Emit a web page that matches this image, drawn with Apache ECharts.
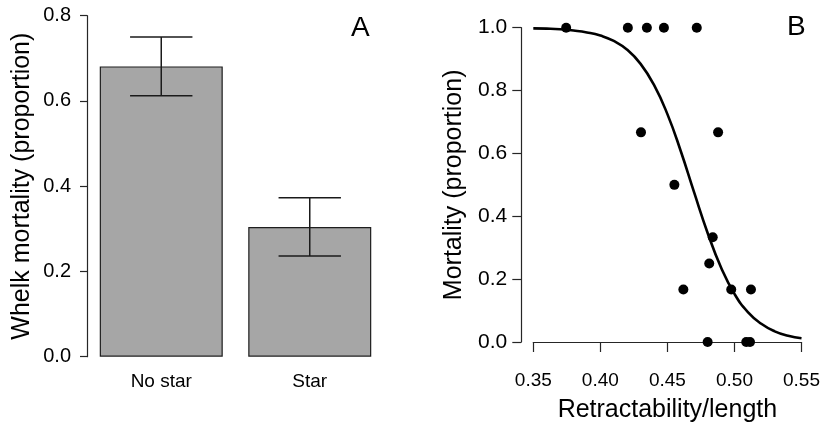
<!DOCTYPE html>
<html>
<head>
<meta charset="utf-8">
<script src="https://cdn.jsdelivr.net/npm/echarts@6/dist/echarts.min.js"></script>
<style>
  html, body { margin: 0; padding: 0; background: #ffffff; }
  #chart { width: 823px; height: 428px; }
</style>
</head>
<body>
<div id="chart"></div>
<script>
// ---- Panel A data ----
const barCategories = ['No star', 'Star'];
const barMeans = [0.681, 0.304];
const barErrLow = [0.612, 0.236];
const barErrHigh = [0.750, 0.373];

// ---- Panel B data ----
const pointX = [0.3745, 0.4205, 0.4347, 0.4474, 0.4719, 0.4303, 0.4878, 0.4552, 0.4838, 0.4812, 0.4619, 0.4976, 0.5123, 0.4800, 0.5088, 0.5116];
const pointY = [1.0, 1.0, 1.0, 1.0, 1.0, 0.667, 0.667, 0.5, 0.333, 0.25, 0.167, 0.167, 0.167, 0.0, 0.0, 0.0];

const curveX = [0.35, 0.36, 0.37, 0.38, 0.39, 0.40, 0.41, 0.42, 0.43, 0.44, 0.45, 0.46, 0.47, 0.48, 0.49, 0.50, 0.51, 0.52, 0.53, 0.54, 0.55];
const curveY = [0.998, 0.997, 0.995, 0.991, 0.985, 0.975, 0.958, 0.930, 0.885, 0.818, 0.725, 0.607, 0.475, 0.347, 0.237, 0.153, 0.095, 0.058, 0.034, 0.020, 0.012];

const FONT = '"Liberation Sans", Arial, Helvetica, sans-serif';
const AXIS_COLOR = '#262626';
const TEXT_COLOR = '#000000';

const chart = echarts.init(document.getElementById('chart'), null, { renderer: 'canvas' });

const option = {
  backgroundColor: '#ffffff',
  animation: false,
  textStyle: { fontFamily: FONT },
  grid: [
    { left: 87, width: 297, top: 15.7, bottom: 71.3 },
    { left: 533.3, right: 17.3, top: 27.7, bottom: 85 }
  ],
  xAxis: [
    {
      gridIndex: 0,
      type: 'category',
      data: barCategories,
      boundaryGap: true,
      axisLine: { show: false },
      axisTick: { show: false },
      axisLabel: { fontSize: 19, color: TEXT_COLOR, margin: 16, fontFamily: FONT }
    },
    {
      gridIndex: 1,
      type: 'value',
      min: 0.35, max: 0.55, interval: 0.05,
      offset: 14,
      name: 'Retractability/length',
      nameLocation: 'middle',
      nameGap: 42,
      nameTextStyle: { fontSize: 25, color: TEXT_COLOR, fontFamily: FONT },
      axisLine: { show: true, lineStyle: { color: AXIS_COLOR, width: 1.2 } },
      axisTick: { show: true, length: 10, lineStyle: { color: AXIS_COLOR, width: 1.2 } },
      splitLine: { show: false },
      axisLabel: { fontSize: 19, color: TEXT_COLOR, margin: 15, fontFamily: FONT,
        formatter: v => v.toFixed(2) }
    }
  ],
  yAxis: [
    {
      gridIndex: 0,
      type: 'value',
      min: 0, max: 0.8, interval: 0.2,
      name: 'Whelk mortality (proportion)',
      nameLocation: 'middle',
      nameGap: 52,
      nameTextStyle: { fontSize: 25, color: TEXT_COLOR, fontFamily: FONT },
      axisLine: { show: true, lineStyle: { color: AXIS_COLOR, width: 1.2 } },
      axisTick: { show: true, length: 7, lineStyle: { color: AXIS_COLOR, width: 1.2 } },
      splitLine: { show: false },
      axisLabel: { fontSize: 20, color: TEXT_COLOR, margin: 16, fontFamily: FONT,
        formatter: v => v.toFixed(1) }
    },
    {
      gridIndex: 1,
      type: 'value',
      min: 0, max: 1, interval: 0.2,
      offset: 12,
      name: 'Mortality (proportion)',
      nameLocation: 'middle',
      nameGap: 55,
      nameTextStyle: { fontSize: 25, color: TEXT_COLOR, fontFamily: FONT },
      axisLine: { show: true, lineStyle: { color: AXIS_COLOR, width: 1.2 } },
      axisTick: { show: true, length: 9, lineStyle: { color: AXIS_COLOR, width: 1.2 } },
      splitLine: { show: false },
      axisLabel: { fontSize: 21, color: TEXT_COLOR, margin: 14, fontFamily: FONT,
        formatter: v => v.toFixed(1) }
    }
  ],
  graphic: [
    { type: 'text', left: 351, top: 14, style: { text: 'A', font: '28px ' + FONT, fill: TEXT_COLOR } },
    { type: 'text', left: 787, top: 13, style: { text: 'B', font: '28px ' + FONT, fill: TEXT_COLOR } }
  ],
  series: [
    {
      type: 'bar',
      xAxisIndex: 0, yAxisIndex: 0,
      data: barMeans,
      barWidth: 123,
      itemStyle: { color: '#a6a6a6', borderColor: '#1e1e1e', borderWidth: 1.2 },
      z: 2
    },
    {
      type: 'custom',
      xAxisIndex: 0, yAxisIndex: 0,
      data: barCategories.map((c, i) => [i, barErrLow[i], barErrHigh[i]]),
      encode: { x: 0, y: [1, 2] },
      z: 5,
      renderItem: function (params, api) {
        const idx = api.value(0);
        const lo = api.coord([idx, api.value(1)]);
        const hi = api.coord([idx, api.value(2)]);
        const half = api.size([1, 0])[0] * 0.21;
        const st = { stroke: '#1a1a1a', lineWidth: 1.5 };
        return {
          type: 'group',
          children: [
            { type: 'line', shape: { x1: lo[0], y1: lo[1], x2: hi[0], y2: hi[1] }, style: st },
            { type: 'line', shape: { x1: hi[0] - half, y1: hi[1], x2: hi[0] + half, y2: hi[1] }, style: st },
            { type: 'line', shape: { x1: lo[0] - half, y1: lo[1], x2: lo[0] + half, y2: lo[1] }, style: st }
          ]
        };
      }
    },
    {
      type: 'line',
      xAxisIndex: 1, yAxisIndex: 1,
      data: curveX.map((x, i) => [x, curveY[i]]),
      showSymbol: false,
      smooth: true,
      clip: false,
      lineStyle: { color: '#000000', width: 2.6 },
      z: 3
    },
    {
      type: 'scatter',
      xAxisIndex: 1, yAxisIndex: 1,
      data: pointX.map((x, i) => [x, pointY[i]]),
      symbol: 'circle',
      symbolSize: 10,
      clip: false,
      itemStyle: { color: '#000000', opacity: 1 },
      z: 4
    }
  ]
};

chart.setOption(option);
</script>
</body>
</html>
